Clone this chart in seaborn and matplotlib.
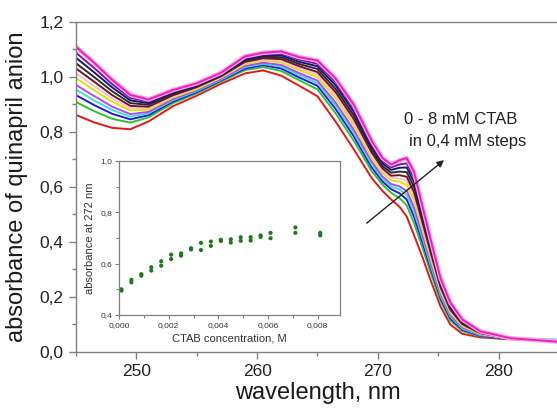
import pandas as pd
import matplotlib
matplotlib.use('Agg')
import matplotlib.pyplot as plt
import matplotlib.patheffects as pe
from matplotlib.ticker import MultipleLocator, FuncFormatter
import seaborn as sns

# wavelengths (nm) at which the spectra were read
wavelength = [245, 246.5, 248, 249.5, 251, 253, 255, 257, 259, 260.5, 262, 263.5, 265,
              266.5, 268, 269.5, 270.4, 271.1, 271.8, 272.4, 273, 273.7, 274.4, 275.2,
              276, 277, 278.5, 281, 285]

# spectra, from 0 mM CTAB (lowest) to 8 mM (highest)
red = [.862, .835, .815, .810, .838, .893, .932, .975, 1.013, 1.024, 1.005, .968, .930,
       .838, .738, .632, .585, .555, .528, .492, .425, .345, .258, .165, .100, .066, .053, .046, .042]
green = [.909, .876, .848, .834, .853, .904, .941, .983, 1.025, 1.036, 1.022, .988, .955,
         .868, .769, .658, .608, .579, .560, .532, .469, .380, .286, .185, .115, .076, .057, .047, .041]
blue = [.934, .898, .866, .846, .861, .910, .945, .987, 1.031, 1.043, 1.031, .998, .968,
        .884, .785, .671, .620, .592, .577, .554, .492, .399, .301, .195, .123, .081, .059, .047, .041]
cyan = [.954, .915, .880, .856, .868, .915, .949, .990, 1.036, 1.048, 1.038, 1.007, .978,
        .896, .798, .682, .629, .602, .591, .571, .510, .414, .312, .203, .130, .085, .061, .052, .045]
violet = [.971, .931, .892, .865, .873, .919, .952, .993, 1.040, 1.052, 1.044, 1.014, .987,
          .907, .809, .692, .638, .611, .602, .586, .526, .426, .323, .210, .135, .089, .063, .048, .040]
yellow = [.996, .952, .910, .878, .881, .925, .956, .997, 1.047, 1.059, 1.053, 1.024, 1.000,
          .923, .826, .705, .650, .624, .619, .607, .549, .445, .337, .221, .143, .094, .065, .048, .040]
pale = [1.013, .967, .922, .886, .887, .929, .960, .999, 1.051, 1.063, 1.059, 1.031, 1.009,
        .934, .837, .715, .658, .633, .631, .622, .565, .458, .348, .228, .149, .098, .066, .048, .040]
wine = [1.031, .983, .934, .895, .892, .933, .963, 1.002, 1.055, 1.068, 1.065, 1.039, 1.018,
        .945, .848, .725, .667, .641, .643, .637, .581, .471, .358, .235, .154, .101, .068, .049, .039]
black = [1.050, 1.000, .948, .905, .899, .938, .966, 1.005, 1.060, 1.073, 1.072, 1.047, 1.029,
         .957, .861, .735, .676, .652, .656, .654, .600, .486, .370, .243, .161, .106, .070, .049, .039]
navy = [1.070, 1.017, .962, .915, .905, .943, .970, 1.009, 1.065, 1.078, 1.079, 1.055, 1.039,
        .970, .874, .746, .686, .662, .670, .671, .618, .500, .381, .252, .167, .110, .071, .049, .038]
purple = [1.088, 1.033, .974, .924, .911, .947, .973, 1.011, 1.069, 1.082, 1.085, 1.063, 1.048,
          .981, .885, .756, .694, .671, .682, .686, .634, .513, .392, .259, .173, .113, .073, .050, .038]
pink = [1.110, 1.052, .990, .935, .918, .952, .977, 1.015, 1.075, 1.088, 1.093, 1.072, 1.060,
        .995, .900, .768, .705, .682, .697, .705, .655, .530, .405, .268, .180, .118, .075, .050, .037]

curve_names = ['red', 'green', 'blue', 'cyan', 'violet', 'yellow', 'pale', 'wine',
               'black', 'navy', 'purple', 'pink']
curve_values = [red, green, blue, cyan, violet, yellow, pale, wine, black, navy, purple, pink]
curve_colors = ['#e3171c', '#2bc42b', '#1c1ce0', '#3ddbeb', '#b848ee', '#e2e200', '#eec4d2',
                '#7a1026', '#2a2a2a', '#141478', '#7d12a0', '#f01eb4']

# inset: absorbance at 272 nm vs CTAB concentration (two readings each)
ctab = [0.0001, 0.0005, 0.0009, 0.0013, 0.0017, 0.0021, 0.0025, 0.0029, 0.0033, 0.0037,
        0.0041, 0.0045, 0.0049, 0.0053, 0.0057, 0.0061, 0.0071, 0.0081]
abs_a = [0.500, 0.537, 0.559, 0.586, 0.609, 0.635, 0.640, 0.660, 0.681, 0.686,
         0.693, 0.695, 0.703, 0.703, 0.710, 0.720, 0.741, 0.720]
abs_b = [0.495, 0.527, 0.553, 0.573, 0.592, 0.618, 0.631, 0.655, 0.653, 0.669,
         0.688, 0.682, 0.689, 0.690, 0.704, 0.699, 0.720, 0.710]

sns.set_style('ticks')
plt.rcParams['font.family'] = ['Liberation Sans', 'DejaVu Sans']

rows = []
for name, vals in zip(curve_names, curve_values):
    for w, v in zip(wavelength, vals):
        rows.append({'wavelength': w, 'absorbance': v, 'curve': name})
df = pd.DataFrame(rows)

ins_df = pd.DataFrame({'ctab': ctab + ctab, 'a272': abs_a + abs_b})

spine_c = '#808080'
comma = lambda fmt: FuncFormatter(lambda v, p: (fmt % v).replace('.', ','))

fig = plt.figure(figsize=(5.57, 4.08), dpi=100)
ax = fig.add_axes([0.1364, 0.1373, 0.867, 0.8088])

sns.lineplot(data=df, x='wavelength', y='absorbance', hue='curve',
             palette=dict(zip(curve_names, curve_colors)), legend=False,
             linewidth=1.4, estimator=None, sort=False, ax=ax)
ax.lines[-1].set_path_effects([pe.Stroke(linewidth=3.2, foreground='#f5a8ee'), pe.Normal()])

ax.set_xlim(245, 285)
ax.set_ylim(0, 1.2)
ax.xaxis.set_major_locator(MultipleLocator(10))
ax.xaxis.set_minor_locator(MultipleLocator(5))
ax.yaxis.set_major_locator(MultipleLocator(0.2))
ax.yaxis.set_minor_locator(MultipleLocator(0.1))
ax.yaxis.set_major_formatter(comma('%.1f'))
ax.tick_params(which='major', direction='out', length=5, width=1, color=spine_c,
               labelsize=12.5, labelcolor='#222222', pad=4)
ax.tick_params(which='minor', direction='out', length=3, width=1, color=spine_c)
for s in ax.spines.values():
    s.set_color(spine_c)
    s.set_linewidth(1)
ax.set_xlabel('wavelength, nm', fontsize=17, color='#1a1a1a', labelpad=2)
ax.set_ylabel('absorbance of quinapril anion', fontsize=17, color='#1a1a1a', labelpad=8)

ax.annotate('', xy=(275.66, 0.704), xytext=(268.9, 0.462),
            arrowprops=dict(arrowstyle='-|>', color='#222222', lw=1, mutation_scale=10))
ax.text(272.2, 0.844, '0 - 8 mM CTAB', fontsize=12, color='#222222', ha='left', va='center')
ax.text(272.55, 0.764, 'in 0,4 mM steps', fontsize=12, color='#222222', ha='left', va='center')

# inset
ins = fig.add_axes([0.2136, 0.228, 0.397, 0.3775])
sns.scatterplot(data=ins_df, x='ctab', y='a272', color='#1c7a1c', s=9,
                edgecolor='none', ax=ins)
ins.set_xlim(0, 0.0089)
ins.set_ylim(0.4, 1.0)
ins.xaxis.set_major_locator(MultipleLocator(0.002))
ins.xaxis.set_minor_locator(MultipleLocator(0.001))
ins.yaxis.set_major_locator(MultipleLocator(0.2))
ins.yaxis.set_minor_locator(MultipleLocator(0.1))
ins.xaxis.set_major_formatter(comma('%.3f'))
ins.yaxis.set_major_formatter(comma('%.1f'))
ins.tick_params(which='major', direction='out', length=3, width=0.8, color=spine_c,
                labelsize=6, labelcolor='#333333', pad=2)
ins.tick_params(which='minor', direction='out', length=2, width=0.8, color=spine_c)
for s in ins.spines.values():
    s.set_color(spine_c)
    s.set_linewidth(0.9)
ins.set_xlabel('CTAB concentration, M', fontsize=8, color='#333333', labelpad=3)
ins.set_ylabel('absorbance at 272 nm', fontsize=8, color='#333333', labelpad=4)

fig.savefig('out.png', dpi=100)
